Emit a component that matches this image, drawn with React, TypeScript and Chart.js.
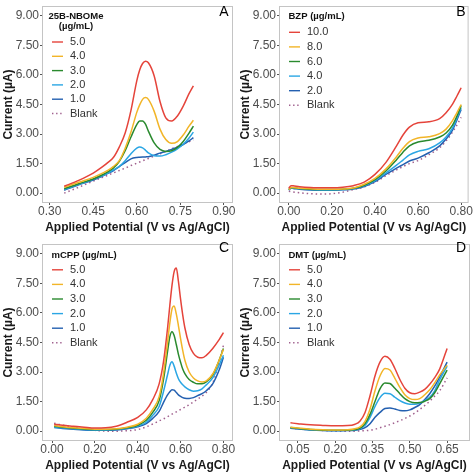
import React, { useEffect, useRef } from "react";
import { Chart, registerables } from "chart.js";
Chart.register(...registerables);

const FONT = "'Liberation Sans', Arial, Helvetica, sans-serif";

const yTickValues = [0, 1.5, 3, 4.5, 6, 7.5, 9];
const seriesColors = ["#E5443B", "#F2B528", "#2A8A2E", "#2AA6E4", "#2460B0"];
const blankColor = "#A0608E";
const xAxisTitle = "Applied Potential (V vs Ag/AgCl)";
const yAxisTitle = "Current (µA)";

// ---------- Panel A: 25B-NBOMe ----------
const xA = [0.35, 0.40, 0.45, 0.48, 0.50, 0.52, 0.54, 0.56, 0.58, 0.60, 0.61, 0.62, 0.63, 0.64, 0.66, 0.68, 0.70, 0.72, 0.74, 0.76, 0.78, 0.795];
const aRed = [0.35, 0.65, 1.02, 1.32, 1.55, 1.82, 2.35, 3.05, 4.20, 5.70, 6.25, 6.58, 6.70, 6.62, 5.95, 4.65, 3.82, 3.66, 3.92, 4.42, 5.05, 5.45];
const aYellow = [0.30, 0.55, 0.80, 1.00, 1.15, 1.36, 1.65, 2.28, 3.10, 4.10, 4.48, 4.76, 4.85, 4.76, 4.15, 3.25, 2.72, 2.53, 2.62, 2.95, 3.40, 3.70];
const aGreen = [0.22, 0.48, 0.72, 0.92, 1.08, 1.28, 1.62, 2.15, 2.85, 3.48, 3.66, 3.66, 3.50, 3.15, 2.55, 2.22, 2.12, 2.15, 2.32, 2.62, 3.05, 3.40];
const aLightBlue = [0.18, 0.45, 0.70, 0.88, 1.02, 1.18, 1.36, 1.65, 2.00, 2.28, 2.34, 2.30, 2.18, 2.04, 1.90, 1.88, 1.95, 2.08, 2.25, 2.48, 2.80, 3.10];
const aDarkBlue = [0.15, 0.42, 0.66, 0.85, 1.00, 1.15, 1.35, 1.55, 1.74, 1.81, 1.82, 1.83, 1.84, 1.85, 1.93, 2.03, 2.12, 2.22, 2.33, 2.47, 2.65, 2.82];
const aBlank = [0.00, 0.30, 0.61, 0.79, 0.91, 1.03, 1.15, 1.27, 1.40, 1.52, 1.58, 1.64, 1.70, 1.76, 1.88, 2.00, 2.12, 2.25, 2.37, 2.49, 2.61, 2.70];
const aLabels = ["5.0", "4.0", "3.0", "2.0", "1.0"];
const aXTicks = [0.30, 0.45, 0.60, 0.75, 0.90];

// ---------- Panel B: BZP ----------
const xB = [0, 0.01, 0.02, 0.05, 0.10, 0.15, 0.20, 0.25, 0.30, 0.35, 0.40, 0.45, 0.50, 0.53, 0.56, 0.60, 0.65, 0.70, 0.73, 0.76, 0.78, 0.80];
const bRed = [0.25, 0.38, 0.37, 0.33, 0.29, 0.27, 0.27, 0.30, 0.38, 0.56, 0.95, 1.55, 2.40, 2.95, 3.35, 3.57, 3.62, 3.78, 4.08, 4.52, 4.92, 5.35];
const bYellow = [0.18, 0.28, 0.28, 0.25, 0.22, 0.20, 0.20, 0.21, 0.26, 0.45, 0.75, 1.22, 1.85, 2.28, 2.62, 2.80, 2.86, 3.02, 3.25, 3.68, 4.08, 4.50];
const bGreen = [0.18, 0.27, 0.27, 0.24, 0.20, 0.18, 0.18, 0.20, 0.25, 0.40, 0.68, 1.12, 1.70, 2.08, 2.40, 2.60, 2.68, 2.85, 3.05, 3.45, 3.90, 4.45];
const bLightBlue = [0.18, 0.25, 0.25, 0.22, 0.18, 0.16, 0.16, 0.18, 0.23, 0.37, 0.63, 1.02, 1.42, 1.68, 1.94, 2.12, 2.25, 2.55, 2.85, 3.30, 3.80, 4.35];
const bDarkBlue = [0.15, 0.25, 0.24, 0.20, 0.16, 0.15, 0.15, 0.17, 0.21, 0.34, 0.58, 0.95, 1.27, 1.45, 1.63, 1.78, 2.05, 2.40, 2.75, 3.20, 3.70, 4.25];
const bBlank = [0.10, 0.08, 0.06, 0.02, -0.03, -0.05, -0.03, 0.05, 0.18, 0.32, 0.55, 0.88, 1.18, 1.35, 1.50, 1.65, 1.95, 2.30, 2.65, 3.10, 3.45, 3.85];
const bLabels = ["10.0", "8.0", "6.0", "4.0", "2.0"];
const bXTicks = [0.00, 0.20, 0.40, 0.60, 0.80];

// ---------- Panel C: mCPP ----------
const xC = [0.01, 0.05, 0.10, 0.15, 0.20, 0.25, 0.30, 0.35, 0.40, 0.44, 0.47, 0.50, 0.52, 0.54, 0.55, 0.56, 0.57, 0.58, 0.59, 0.60, 0.61, 0.62, 0.64, 0.66, 0.68, 0.70, 0.72, 0.75, 0.78, 0.80];
const cRed = [0.35, 0.30, 0.25, 0.20, 0.16, 0.17, 0.25, 0.45, 0.70, 1.08, 1.60, 2.40, 3.50, 5.30, 6.40, 7.40, 8.10, 8.28, 7.60, 6.70, 5.90, 5.25, 4.40, 3.95, 3.75, 3.72, 3.85, 4.20, 4.65, 5.00];
const cYellow = [0.28, 0.22, 0.17, 0.13, 0.10, 0.10, 0.12, 0.20, 0.35, 0.65, 1.10, 1.75, 2.90, 4.60, 5.50, 6.20, 6.35, 5.95, 5.35, 4.70, 4.10, 3.60, 3.00, 2.70, 2.55, 2.50, 2.55, 2.90, 3.60, 4.15];
const cGreen = [0.25, 0.20, 0.15, 0.11, 0.08, 0.08, 0.10, 0.17, 0.30, 0.55, 0.95, 1.55, 2.60, 4.10, 4.80, 5.05, 4.85, 4.40, 3.90, 3.50, 3.15, 2.92, 2.62, 2.48, 2.40, 2.40, 2.50, 2.85, 3.60, 4.20];
const cLightBlue = [0.20, 0.17, 0.12, 0.08, 0.06, 0.06, 0.08, 0.14, 0.26, 0.45, 0.80, 1.25, 2.00, 2.90, 3.35, 3.52, 3.30, 2.95, 2.66, 2.48, 2.35, 2.25, 2.10, 2.03, 2.05, 2.15, 2.35, 2.70, 3.35, 3.85];
const cDarkBlue = [0.18, 0.14, 0.10, 0.06, 0.04, 0.04, 0.06, 0.12, 0.22, 0.38, 0.65, 1.00, 1.45, 1.85, 2.00, 2.10, 2.08, 1.96, 1.84, 1.76, 1.70, 1.67, 1.66, 1.70, 1.80, 1.90, 2.05, 2.40, 3.10, 3.75];
const cBlank = [0.40, 0.30, 0.20, 0.10, 0.04, 0.00, 0.00, 0.02, 0.08, 0.22, 0.36, 0.52, 0.62, 0.74, 0.80, 0.86, 0.92, 0.98, 1.04, 1.10, 1.16, 1.22, 1.34, 1.48, 1.63, 1.78, 1.96, 2.45, 3.50, 4.35];
const cLabels = ["5.0", "4.0", "3.0", "2.0", "1.0"];
const cXTicks = [0.00, 0.20, 0.40, 0.60, 0.80];

// ---------- Panel D: DMT ----------
const xD = [0.02, 0.05, 0.10, 0.15, 0.20, 0.25, 0.28, 0.30, 0.32, 0.34, 0.36, 0.38, 0.40, 0.42, 0.44, 0.46, 0.48, 0.50, 0.52, 0.54, 0.56, 0.58, 0.60, 0.62, 0.65];
const dRed = [0.42, 0.38, 0.32, 0.29, 0.27, 0.28, 0.35, 0.52, 0.95, 1.80, 2.80, 3.50, 3.80, 3.65, 3.18, 2.62, 2.18, 1.95, 1.90, 1.98, 2.12, 2.38, 2.72, 3.15, 4.20];
const dYellow = [0.20, 0.16, 0.10, 0.07, 0.06, 0.07, 0.12, 0.22, 0.50, 1.12, 2.05, 2.80, 3.18, 3.10, 2.68, 2.22, 1.85, 1.65, 1.60, 1.65, 1.85, 2.10, 2.45, 2.85, 3.35];
const dGreen = [0.18, 0.14, 0.08, 0.05, 0.04, 0.05, 0.08, 0.15, 0.38, 0.85, 1.50, 2.15, 2.45, 2.42, 2.18, 1.90, 1.65, 1.50, 1.44, 1.45, 1.52, 1.65, 1.95, 2.40, 3.10];
const dLightBlue = [0.17, 0.13, 0.07, 0.04, 0.03, 0.04, 0.07, 0.13, 0.30, 0.70, 1.25, 1.70, 1.92, 1.90, 1.72, 1.55, 1.43, 1.37, 1.36, 1.42, 1.55, 1.72, 2.05, 2.60, 3.30];
const dDarkBlue = [0.15, 0.11, 0.06, 0.03, 0.02, 0.03, 0.05, 0.09, 0.18, 0.38, 0.70, 0.95, 1.15, 1.18, 1.12, 1.05, 1.03, 1.08, 1.20, 1.35, 1.60, 1.90, 2.28, 2.75, 3.50];
const dBlank = [0.15, 0.12, 0.07, 0.03, 0.00, 0.00, 0.00, 0.01, 0.02, 0.05, 0.10, 0.17, 0.25, 0.33, 0.43, 0.53, 0.64, 0.77, 0.92, 1.10, 1.30, 1.52, 1.78, 2.05, 2.70];
const dLabels = ["5.0", "4.0", "3.0", "2.0", "1.0"];
const dXTicks = [0.05, 0.20, 0.35, 0.50, 0.65];

type PanelDef = {
  x: number[];
  series: number[][];
  blank: number[];
  labels: string[];
  xMin: number;
  xMax: number;
  xTicks: number[];
  title: string[];
  titleCentered: boolean;
  letter: string;
  left: number;
  top: number;
  titleX: number;
  titleY: number;
  rowY0: number;
  rowGap: number;
  letterY: number;
};

const panels: PanelDef[] = [
  {
    x: xA, series: [aRed, aYellow, aGreen, aLightBlue, aDarkBlue], blank: aBlank, labels: aLabels,
    xMin: 0.277, xMax: 0.928, xTicks: aXTicks, title: ["25B-NBOMe", "(µg/mL)"], titleCentered: true,
    letter: "A", left: 0, top: 0, titleX: 76, titleY: 16.7, rowY0: 42, rowGap: 14.3, letterY: 12,
  },
  {
    x: xB, series: [bRed, bYellow, bGreen, bLightBlue, bDarkBlue], blank: bBlank, labels: bLabels,
    xMin: -0.041, xMax: 0.83, xTicks: bXTicks, title: ["BZP (µg/mL)"], titleCentered: false,
    letter: "B", left: 237, top: 0, titleX: 51.5, titleY: 16, rowY0: 32.3, rowGap: 14.6, letterY: 12,
  },
  {
    x: xC, series: [cRed, cYellow, cGreen, cLightBlue, cDarkBlue], blank: cBlank, labels: cLabels,
    xMin: -0.042, xMax: 0.84, xTicks: cXTicks, title: ["mCPP (µg/mL)"], titleCentered: false,
    letter: "C", left: 0, top: 238, titleX: 51.5, titleY: 17, rowY0: 31.8, rowGap: 14.6, letterY: 10.5,
  },
  {
    x: xD, series: [dRed, dYellow, dGreen, dLightBlue, dDarkBlue], blank: dBlank, labels: dLabels,
    xMin: -0.022, xMax: 0.738, xTicks: dXTicks, title: ["DMT (µg/mL)"], titleCentered: false,
    letter: "D", left: 237, top: 238, titleX: 51.5, titleY: 17, rowY0: 31.8, rowGap: 14.6, letterY: 10.5,
  },
];

const overlayPlugin = {
  id: "overlay",
  afterDatasetsDraw(chart: any, _args: any, opts: any) {
    const ctx = chart.ctx as CanvasRenderingContext2D;
    const ca = chart.chartArea;
    const def: PanelDef = opts.def;
    ctx.save();
    // panel border
    ctx.strokeStyle = "#C4C4C4";
    ctx.lineWidth = 1;
    ctx.setLineDash([]);
    ctx.strokeRect(ca.left - 0.5, ca.top - 0.5, ca.right - ca.left + 1, ca.bottom - ca.top + 1);

    // legend title
    ctx.fillStyle = "#111";
    ctx.font = `bold 9.5px ${FONT}`;
    ctx.textBaseline = "middle";
    ctx.textAlign = def.titleCentered ? "center" : "left";
    def.title.forEach((t, i) => ctx.fillText(t, def.titleX, def.titleY + i * 10));

    // legend rows
    const keys = def.labels.map((l, i) => ({ label: l, color: seriesColors[i], dash: false }));
    keys.push({ label: "Blank", color: blankColor, dash: true });
    ctx.font = `11px ${FONT}`;
    ctx.textAlign = "left";
    keys.forEach((k, i) => {
      const y = def.rowY0 + i * def.rowGap;
      ctx.beginPath();
      ctx.strokeStyle = k.color;
      ctx.lineWidth = 1.4;
      ctx.setLineDash(k.dash ? [1.4, 2.7] : []);
      ctx.moveTo(52, y);
      ctx.lineTo(63, y);
      ctx.stroke();
      ctx.setLineDash([]);
      ctx.fillStyle = "#333";
      ctx.fillText(k.label, 70, y);
    });

    // panel letter
    ctx.fillStyle = "#000";
    ctx.font = `14px ${FONT}`;
    ctx.textAlign = "center";
    ctx.fillText(def.letter, 224, def.letterY);
    ctx.restore();
  },
};

function Panel({ def }: { def: PanelDef }) {
  const ref = useRef<HTMLCanvasElement | null>(null);
  useEffect(() => {
    if (!ref.current) return;
    const mk = (ys: number[]) => def.x.map((xv, j) => ({ x: xv, y: ys[j] }));
    const datasets: any[] = def.series.map((ys, i) => ({
      label: def.labels[i],
      data: mk(ys),
      borderColor: seriesColors[i],
      backgroundColor: seriesColors[i],
      borderWidth: 1.5,
      pointRadius: 0,
      cubicInterpolationMode: "monotone",
      fill: false,
    }));
    datasets.push({
      label: "Blank",
      data: mk(def.blank),
      borderColor: blankColor,
      backgroundColor: blankColor,
      borderWidth: 1.5,
      borderDash: [1.5, 3],
      pointRadius: 0,
      cubicInterpolationMode: "monotone",
      fill: false,
    });
    const tickFont = { family: FONT, size: 12, lineHeight: 1 };
    const titleFont = { family: FONT, size: 12, weight: "bold" as const, lineHeight: 1.2 };
    const chart = new Chart(ref.current, {
      type: "line",
      data: { datasets },
      plugins: [overlayPlugin],
      options: {
        responsive: false,
        animation: false,
        devicePixelRatio: 1,
        layout: { padding: { left: 0, top: 1, right: 5, bottom: 0 } },
        plugins: {
          legend: { display: false },
          tooltip: { enabled: false },
          overlay: { def },
        } as any,
        scales: {
          x: {
            type: "linear",
            min: def.xMin,
            max: def.xMax,
            afterBuildTicks: (s: any) => {
              s.ticks = def.xTicks.map((v) => ({ value: v }));
            },
            afterFit: (s: any) => {
              s.height = 35;
            },
            ticks: {
              color: "#4D4D4D",
              font: tickFont,
              padding: 1,
              autoSkip: false,
              maxRotation: 0,
              callback: (v: any) => Number(v).toFixed(2),
            },
            grid: { drawOnChartArea: false, drawTicks: true, tickLength: 3, tickColor: "#555", color: "#555" },
            border: { display: false },
            title: { display: true, text: xAxisTitle, color: "#1a1a1a", font: titleFont, padding: { top: 0, bottom: 2 } },
          },
          y: {
            type: "linear",
            min: -0.45,
            max: 9.45,
            afterBuildTicks: (s: any) => {
              s.ticks = yTickValues.map((v) => ({ value: v }));
            },
            afterFit: (s: any) => {
              s.width = 43;
            },
            ticks: {
              color: "#4D4D4D",
              font: tickFont,
              padding: 1,
              autoSkip: false,
              callback: (v: any) => Number(v).toFixed(2),
            },
            grid: { drawOnChartArea: false, drawTicks: true, tickLength: 3, tickColor: "#555", color: "#555" },
            border: { display: false },
            title: { display: true, text: yAxisTitle, color: "#1a1a1a", font: titleFont, padding: { top: 1, bottom: 0 } },
          },
        },
      } as any,
    });
    return () => chart.destroy();
  }, [def]);
  return (
    <canvas
      ref={ref}
      width={237}
      height={237}
      style={{ position: "absolute", left: def.left, top: def.top, width: 237, height: 237 }}
    />
  );
}

export default function App() {
  return (
    <div
      style={{
        position: "fixed",
        left: 0,
        top: 0,
        width: 474,
        height: 473,
        overflow: "hidden",
        background: "#fff",
      }}
    >
      {panels.map((p) => (
        <Panel key={p.letter} def={p} />
      ))}
    </div>
  );
}
